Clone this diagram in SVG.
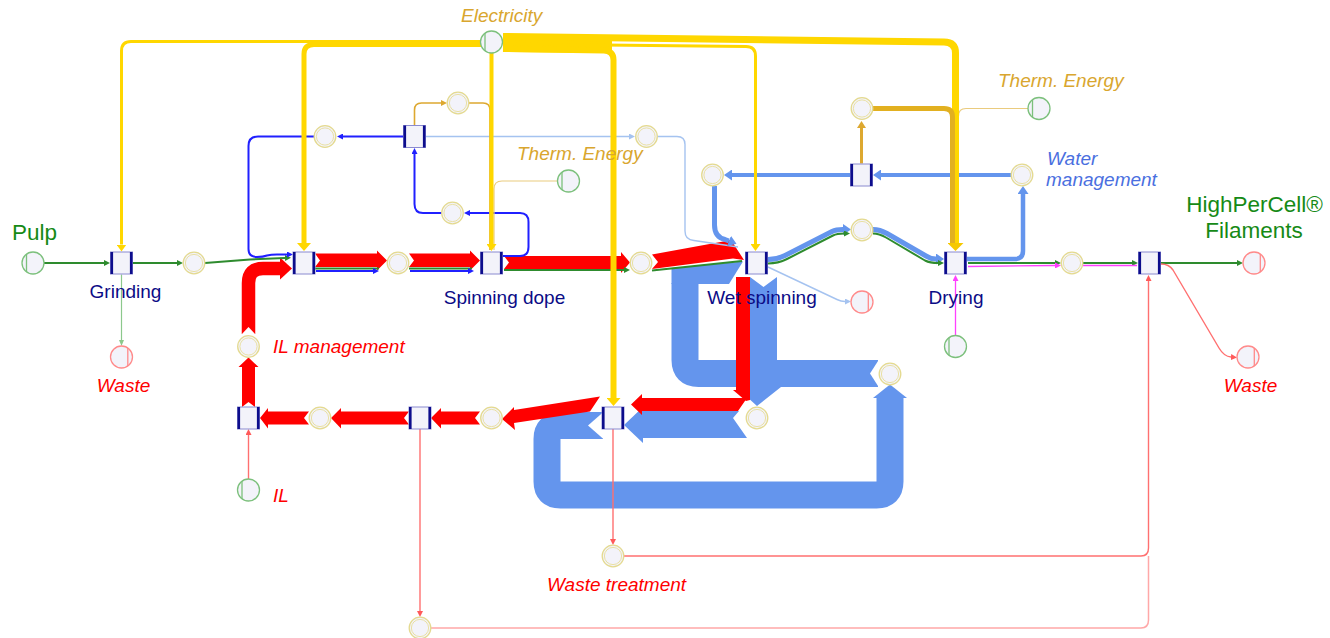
<svg xmlns="http://www.w3.org/2000/svg" width="1330" height="638" viewBox="0 0 1330 638">
<style>
.ln{fill:none;stroke-linecap:butt;stroke-linejoin:round}
.y{stroke:#FFD700}
.go{stroke:#DDA830}
.gol{stroke:#EACB7E}
.b{stroke:#2020FF;stroke-width:2}
.lb{stroke:#A5C3F0;stroke-width:1.4}
.cb{stroke:#6495ED}
.g{stroke:#2E8B2E;stroke-width:2}
.lg{stroke:#8CC88C;stroke-width:1.2}
.m{stroke:#FF40FF;stroke-width:1.3}
.lr{stroke:#FF7070;stroke-width:1.4}
.lr2{stroke:#FFA8A8;stroke-width:1.5}
.red{fill:#FF0000}
.blu{fill:#6495ED}
text{font-family:"Liberation Sans",Arial,sans-serif;font-size:19px}
.nl{fill:#0B0B86}
.it{font-style:italic}
.tg{fill:#D9A62E}
.tr{fill:#FF0000}
.tb{fill:#4A6FE0}
.tgr{fill:#168A16;font-size:22.5px}
</style>
<defs>
<marker id="aG" viewBox="0 0 10 10" refX="0" refY="5" markerWidth="6" markerHeight="6" markerUnits="userSpaceOnUse" orient="auto" preserveAspectRatio="none"><path d="M0,0L10,5L0,10z" fill="#2E8B2E"/></marker>
<marker id="aLG" viewBox="0 0 10 10" refX="0" refY="5" markerWidth="6" markerHeight="5" markerUnits="userSpaceOnUse" orient="auto" preserveAspectRatio="none"><path d="M0,0L10,5L0,10z" fill="#8CC88C"/></marker>
<marker id="aB" viewBox="0 0 10 10" refX="0" refY="5" markerWidth="6" markerHeight="6" markerUnits="userSpaceOnUse" orient="auto" preserveAspectRatio="none"><path d="M0,0L10,5L0,10z" fill="#2020FF"/></marker>
<marker id="aLB" viewBox="0 0 10 10" refX="0" refY="5" markerWidth="6" markerHeight="6" markerUnits="userSpaceOnUse" orient="auto" preserveAspectRatio="none"><path d="M0,0L10,5L0,10z" fill="#A5C3F0"/></marker>
<marker id="aCB" viewBox="0 0 10 10" refX="0" refY="5" markerWidth="8" markerHeight="11" markerUnits="userSpaceOnUse" orient="auto" preserveAspectRatio="none"><path d="M0,0L10,5L0,10z" fill="#6495ED"/></marker>
<marker id="aGo" viewBox="0 0 10 10" refX="0" refY="5" markerWidth="6" markerHeight="6" markerUnits="userSpaceOnUse" orient="auto" preserveAspectRatio="none"><path d="M0,0L10,5L0,10z" fill="#DDA830"/></marker>
<marker id="aGo2" viewBox="0 0 10 10" refX="0" refY="5" markerWidth="7" markerHeight="9" markerUnits="userSpaceOnUse" orient="auto" preserveAspectRatio="none"><path d="M0,0L10,5L0,10z" fill="#DDA830"/></marker>
<marker id="aR" viewBox="0 0 10 10" refX="0" refY="5" markerWidth="6" markerHeight="6" markerUnits="userSpaceOnUse" orient="auto" preserveAspectRatio="none"><path d="M0,0L10,5L0,10z" fill="#FF5A5A"/></marker>
<marker id="aM" viewBox="0 0 10 10" refX="0" refY="5" markerWidth="6" markerHeight="6" markerUnits="userSpaceOnUse" orient="auto" preserveAspectRatio="none"><path d="M0,0L10,5L0,10z" fill="#FF40FF"/></marker>
<marker id="aY" viewBox="0 0 10 10" refX="0" refY="5" markerWidth="7" markerHeight="10" markerUnits="userSpaceOnUse" orient="auto" preserveAspectRatio="none"><path d="M0,0L10,5L0,10z" fill="#FFD700"/></marker>
<marker id="aY2" viewBox="0 0 10 10" refX="0" refY="5" markerWidth="8" markerHeight="14" markerUnits="userSpaceOnUse" orient="auto" preserveAspectRatio="none"><path d="M0,0L10,5L0,10z" fill="#FFD700"/></marker>
<marker id="aY3" viewBox="0 0 10 10" refX="0" refY="5" markerWidth="8" markerHeight="16" markerUnits="userSpaceOnUse" orient="auto" preserveAspectRatio="none"><path d="M0,0L10,5L0,10z" fill="#F5C800"/></marker>
<g id="tr"><rect x="-11" y="-11" width="22" height="22" fill="#F3F3FA" stroke="#8A8AD0" stroke-width="1"/><path d="M-9.7-11V11M9.7-11V11" stroke="#0D0D8C" stroke-width="2.6"/></g>
<g id="pl"><circle r="10.8" fill="#F3F3FA" stroke="#E4DA90" stroke-width="1.3"/><circle r="8.6" fill="none" stroke="#E8DE9A" stroke-width="0.9"/></g>
<g id="src"><circle r="11" fill="#F3F3FA" stroke="#7CC07C" stroke-width="1.3"/><path d="M-6.5-8.7V8.7" stroke="#7CC07C" stroke-width="1.3"/></g>
<g id="snk"><circle r="11" fill="#F3F3FA" stroke="#FF8A8A" stroke-width="1.3"/><path d="M6.3-8.9V8.9" stroke="#FF8A8A" stroke-width="1.3"/></g>
</defs>

<g id="connectors">
<!-- big water bands -->
<path class="ln cb" stroke-width="27" d="M603 425.5H560.5Q547 425.5 547 439V481.5Q547 495 560.5 495H876.5Q890 495 890 481.5V398"/>
<polygon class="blu" points="873,398 890,384.5 907,398"/>
<polygon fill="#fff" points="604,411.5 588,425.5 604,439.5"/>
<path class="ln cb" stroke-width="27" d="M878 373.5H698.5Q685 373.5 685 360V283"/>
<polygon class="blu" points="671.5,284 671.5,268 743,261.5 729,284"/>
<polygon fill="#fff" points="879,359.5 870,373.5 879,387.5"/>
<polygon class="blu" points="750,277 763.5,287 777,277 777,387 781,387 757,406 746,396 750,393"/>
<polygon class="blu" points="739,411 643,411 643,407 624,425 643,443 643,438 747,438 733,418"/>

<!-- red IL bands -->
<polygon class="red" points="736,277 750,277 750,400 746,401 733,390 736,390"/>
<polygon class="red" points="747,398 642,398 642,394 631,404.5 642,415 642,411 738,411"/>
<polygon class="red" points="600,396.5 514,410 514,407 502,419 515,430 514,423 590,411.5"/>
<polygon class="red" points="480,411.5 441,411.5 441,408 431,418 441,428.5 441,424.5 480,424.5 475,418"/>
<polygon class="red" points="409,411.5 341,411.5 341,408 331,418 341,428.5 341,424.5 409,424.5 404,418"/>
<polygon class="red" points="309,411.5 268,411.5 268,408 260,418 268,428.5 268,424.5 309,424.5 304,418"/>
<polygon class="red" points="242,407 242,367 238.5,367 248.5,357.5 258.5,367 255,367 255,407 248.5,402"/>
<path class="ln" stroke="#FF0000" stroke-width="13.5" d="M248.5 334V283Q248.5 268.5 263 268.5H281"/>
<polygon fill="#fff" points="241.5,334.5 248.5,327 255.5,334.5"/>
<polygon class="red" points="280,257.5 292,268.5 280,279.5"/>
<polygon class="red" points="315,253.5 377,253.5 377,250.5 387,260.5 377,270.5 377,267 315,267 320,260.5"/>
<polygon class="red" points="409,253.5 470,253.5 470,250.5 480,260.5 470,270.5 470,267 409,267 414,260.5"/>
<polygon class="red" points="504,256 621,256 621,252 630,262.5 621,273 621,269 504,269 509,262.5"/>
<polygon class="red" points="652,254.5 726,241 731,240 744,260 733,258.5 652,269 658,262"/>

<!-- green pulp -->
<path class="ln g" marker-end="url(#aG)" d="M44 263H104"/>
<path class="ln g" marker-end="url(#aG)" d="M133 263H177"/>
<path class="ln lg" marker-end="url(#aLG)" d="M121.5 274.5V340"/>
<path class="ln g" marker-end="url(#aG)" d="M205 263L250 259.5L285 258"/>
<path class="ln g" d="M315 268.5H379"/>
<path class="ln g" d="M409 268.5H472"/>
<path class="ln g" marker-end="url(#aG)" d="M504 270H624"/>
<path class="ln g" d="M652 270.5L742 261"/>
<path class="ln g" marker-end="url(#aG)" d="M968 263H1055"/>
<path class="ln g" marker-end="url(#aG)" d="M1083 263H1132"/>
<path class="ln g" marker-end="url(#aG)" d="M1161 263H1237"/>

<!-- magenta -->
<path class="ln m" marker-end="url(#aM)" d="M955.5 335V281"/>
<path class="ln m" marker-end="url(#aM)" d="M968 266.5L1055 265.5"/>
<path class="ln m" d="M1083 265.5H1137"/>

<!-- blue circuits -->
<path class="ln b" marker-end="url(#aB)" d="M403 136.5H343"/>
<path class="ln b" marker-end="url(#aB)" d="M314 136.5H258Q248.5 136.5 248.5 146V249Q248.5 257 257 257Q263 257 267 255.5Q271 254.5 277 254.5H287"/>
<path class="ln b" stroke-width="2.5" marker-end="url(#aB)" d="M316 271H373"/>
<path class="ln b" stroke-width="2.5" marker-end="url(#aB)" d="M410 271H468"/>
<path class="ln b" marker-end="url(#aB)" d="M503 256H520Q528.5 256 528.5 247V222Q528.5 213 520 213H470"/>
<path class="ln b" marker-end="url(#aB)" d="M442 213H423Q414.5 213 414.5 204V154"/>
<path class="ln lb" marker-end="url(#aLB)" d="M426 136.5H629"/>
<path class="ln lb" d="M657 136.5H677Q685 136.5 685 144.5V231Q685 240 694 240.5L738 247"/>
<path class="ln lb" marker-end="url(#aLB)" d="M768 267L837 299.5Q841 301.5 845 301.5"/>
<path class="ln cb" stroke-width="4" marker-end="url(#aCB)" d="M1011 175H881"/>
<path class="ln cb" stroke-width="4" marker-end="url(#aCB)" d="M850 175H732"/>
<path class="ln cb" stroke-width="5" marker-end="url(#aCB)" d="M714.5 186V225Q714.5 237 725 239.5L729 241"/>
<path class="ln cb" stroke-width="5" marker-end="url(#aCB)" d="M768 259.5Q777 259.5 785 255.5L832 231.5Q836 229.5 843 229.5"/>
<path class="ln g" marker-end="url(#aG)" d="M768 263.5Q778 263.5 787 259L833 235.5Q837 233.5 844 233.5"/>
<path class="ln cb" stroke-width="5" marker-end="url(#aCB)" d="M873 229.5Q880 229.5 887 233.5L926 256Q931 259 936 259"/>
<path class="ln g" marker-end="url(#aG)" d="M873 233.5Q879 233.5 886 237.5L925 260.5Q930 263 938 263"/>
<path class="ln cb" stroke-width="4.5" marker-end="url(#aCB)" d="M967 259H1015Q1023 259 1023 251V194"/>

<!-- light red -->
<path class="ln lr" marker-end="url(#aR)" d="M248.5 479V435"/>
<path class="ln lr" marker-end="url(#aR)" d="M420 429V611"/>
<path class="ln lr" marker-end="url(#aR)" d="M613 429V539"/>
<path class="ln lr2" d="M431 628H1141Q1148.5 628 1148.5 620V556"/>
<path class="ln lr" stroke-width="1.5" marker-end="url(#aR)" d="M624 556H1141Q1148.5 556 1148.5 548V281"/>
<path class="ln lr" stroke-width="1.2" marker-end="url(#aR)" d="M1161 264Q1169 264 1173 270L1219 348Q1224 356.5 1231 357"/>

<!-- thermal energy -->
<path class="ln go" stroke-width="1.6" marker-end="url(#aGo)" d="M414.5 125V110Q414.5 103 421.5 103H441"/>
<path class="ln go" stroke-width="1.6" d="M469 103H483Q490 103 490 110V250"/>
<path class="ln gol" stroke-width="1.2" d="M557 181H502Q494 181 494 189V250"/>
<path class="ln go" stroke-width="3" marker-end="url(#aGo2)" d="M861.5 163.5V128"/>
<path class="ln gol" stroke-width="1.2" d="M1028 108.5H966Q958.5 108.5 958.5 116"/>

<!-- electricity -->
<polygon fill="#FFD700" points="503,34 612,37 612,53 503,52"/>
<path class="ln y" stroke-width="3" marker-end="url(#aY)" d="M481 41.5H131Q121.5 41.5 121.5 51V244.5"/>
<path class="ln y" stroke-width="5" marker-end="url(#aY2)" d="M481 44.5H314Q304 44.5 304 54V243"/>
<path class="ln y" stroke-width="4" marker-end="url(#aY)" d="M491.5 53V244"/>
<path class="ln y" stroke-width="6" marker-end="url(#aY2)" d="M503 49L604 50.5Q613.5 51 613.5 60V398"/>
<path class="ln y" stroke-width="3" marker-end="url(#aY)" d="M503 44L746 46.5Q755.5 46.5 755.5 56V244"/>
<path class="ln y" stroke-width="7" marker-end="url(#aY3)" d="M503 36.5L944 42Q955.5 42 955.5 53V243"/>
<path class="ln" stroke="#E2B020" stroke-width="5" d="M873 108.5H944Q952.5 108.5 952.5 117V243"/>
</g>

<g id="n-grinding"><use href="#tr" x="121.5" y="263"/></g>
<g id="n-mix"><use href="#tr" x="304" y="263"/></g>
<g id="n-dope"><use href="#tr" x="491.5" y="263"/></g>
<g id="n-wet"><use href="#tr" x="756.5" y="263"/></g>
<g id="n-dry"><use href="#tr" x="955.5" y="263"/></g>
<g id="n-final"><use href="#tr" x="1149.5" y="263"/></g>
<g id="n-evap"><use href="#tr" x="414.5" y="136.5"/></g>
<g id="n-water"><use href="#tr" x="861.5" y="175"/></g>
<g id="n-il1"><use href="#tr" x="248.5" y="418"/></g>
<g id="n-il2"><use href="#tr" x="420" y="418"/></g>
<g id="n-sep"><use href="#tr" x="613" y="418"/></g>

<g id="p1"><use href="#pl" x="194" y="263"/></g>
<g id="p2"><use href="#pl" x="398" y="263"/></g>
<g id="p3"><use href="#pl" x="641" y="263"/></g>
<g id="p4"><use href="#pl" x="325" y="136.5"/></g>
<g id="p5"><use href="#pl" x="458" y="103"/></g>
<g id="p6"><use href="#pl" x="452.5" y="213"/></g>
<g id="p7"><use href="#pl" x="646.5" y="136.5"/></g>
<g id="p8"><use href="#pl" x="712.5" y="175"/></g>
<g id="p9"><use href="#pl" x="862" y="230"/></g>
<g id="p10"><use href="#pl" x="862" y="108.5"/></g>
<g id="p11"><use href="#pl" x="1022" y="175"/></g>
<g id="p12"><use href="#pl" x="1072" y="263"/></g>
<g id="p13"><use href="#pl" x="248.5" y="346.5"/></g>
<g id="p14"><use href="#pl" x="320" y="418"/></g>
<g id="p15"><use href="#pl" x="491.5" y="418"/></g>
<g id="p16"><use href="#pl" x="757" y="418"/></g>
<g id="p17"><use href="#pl" x="890" y="374"/></g>
<g id="p18"><use href="#pl" x="613" y="556"/></g>
<g id="p19"><use href="#pl" x="420" y="628"/></g>

<g id="s-pulp"><use href="#src" x="33" y="263"/></g>
<g id="s-elec"><use href="#src" x="491.5" y="42"/></g>
<g id="s-therm1"><use href="#src" x="568.5" y="181"/></g>
<g id="s-therm2"><use href="#src" x="1039" y="108.5"/></g>
<g id="s-air"><use href="#src" x="955.5" y="346.5"/></g>
<g id="s-il"><use href="#src" x="248.5" y="490"/></g>
<g id="k-waste1"><use href="#snk" x="121.5" y="357"/></g>
<g id="k-wet"><use href="#snk" x="862" y="302"/></g>
<g id="k-product"><use href="#snk" x="1254" y="263"/></g>
<g id="k-waste2"><use href="#snk" x="1248" y="357"/></g>

<g id="labels">
<text class="tgr" x="12" y="239.5">Pulp</text>
<text class="nl" x="125.5" y="298" text-anchor="middle">Grinding</text>
<text class="nl" x="504.5" y="304" text-anchor="middle">Spinning dope</text>
<text class="nl" x="762" y="304" text-anchor="middle">Wet spinning</text>
<text class="nl" x="956" y="303.5" text-anchor="middle">Drying</text>
<text class="it tg" x="461" y="22">Electricity</text>
<text class="it tg" x="517" y="159.5">Therm. Energy</text>
<text class="it tg" x="998" y="87">Therm. Energy</text>
<text class="it tb" x="1047" y="165">Water</text>
<text class="it tb" x="1046" y="186">management</text>
<text class="tgr" x="1254.5" y="212" text-anchor="middle">HighPerCell®</text>
<text class="tgr" x="1254" y="238" text-anchor="middle">Filaments</text>
<text class="it tr" x="123.5" y="392" text-anchor="middle">Waste</text>
<text class="it tr" x="273" y="353">IL management</text>
<text class="it tr" x="273" y="502">IL</text>
<text class="it tr" x="547" y="591">Waste treatment</text>
<text class="it tr" x="1250.5" y="392" text-anchor="middle">Waste</text>
</g>
</svg>
